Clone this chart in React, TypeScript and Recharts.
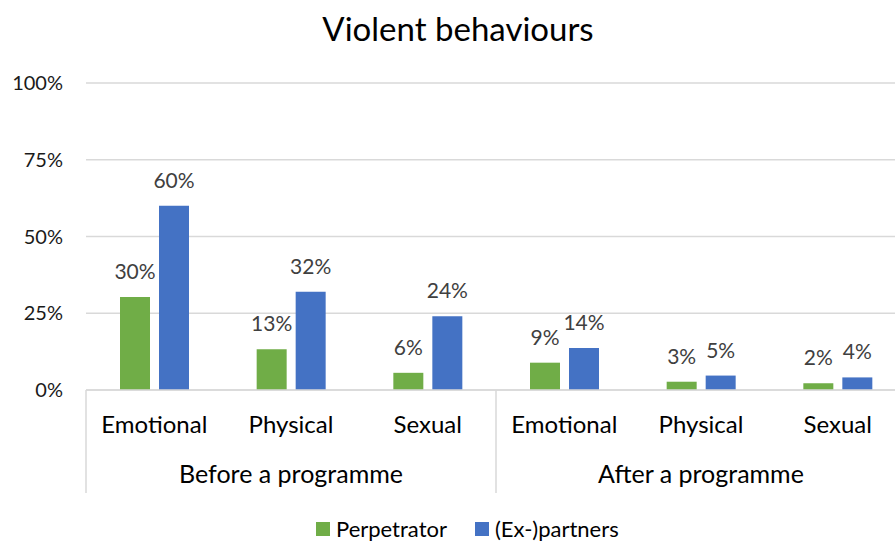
import { Bar, BarChart, CartesianGrid, LabelList, Legend, XAxis, YAxis } from "recharts"

const groups = [
  "Before a programme",
  "Before a programme",
  "Before a programme",
  "After a programme",
  "After a programme",
  "After a programme",
]
const behaviours = ["Emotional", "Physical", "Sexual", "Emotional", "Physical", "Sexual"]
const perpetrator = [30.3, 13.3, 5.6, 8.9, 2.7, 2.2]
const partners = [60, 32, 24, 13.7, 4.7, 4.1]
const yTicks = [0, 25, 50, 75, 100]
const seriesNames = ["Perpetrator", "(Ex-)partners"]

const data = behaviours.map((name, i) => ({
  name,
  group: groups[i],
  perpetrator: perpetrator[i],
  partners: partners[i],
}))

const FONT = "Lato, 'Open Sans', sans-serif"
const GREEN = "#70ad47"
const BLUE = "#4472c4"
const GRID = "#d9d9d9"
const AXIS1_H = 52
const AXIS2_H = 50
const seriesColors = [GREEN, BLUE]

function BehaviourTick(props: any) {
  const { x, y, index, payload } = props
  return (
    <text x={x} y={y + 43} textAnchor="middle" fontSize={24} fill="#000" fontFamily={FONT}>
      {behaviours[index] ?? payload.value}
    </text>
  )
}

function GroupTick(props: any) {
  const { x, y, payload, index, visibleTicksCount } = props
  const half = payload.offset ?? 0
  const top = y - AXIS1_H
  const bottom = y + 51
  return (
    <g>
      <line x1={x - half} x2={x - half} y1={top} y2={bottom} stroke={GRID} strokeWidth={1.5} />
      {index === visibleTicksCount - 1 && (
        <line x1={x + half} x2={x + half} y1={top} y2={bottom} stroke={GRID} strokeWidth={1.5} />
      )}
      <text x={x} y={y + 41} textAnchor="middle" fontSize={25} fill="#000" fontFamily={FONT}>
        {payload.value}
      </text>
    </g>
  )
}

// own legend so the series keep their order
function LegendContent() {
  return (
    <div style={{ display: "flex", alignItems: "center", fontFamily: FONT, fontSize: 22, color: "#000" }}>
      {seriesNames.map((label, i) => (
        <div key={label} style={{ display: "flex", alignItems: "center", marginRight: 28 }}>
          <span
            style={{ display: "inline-block", width: 14, height: 14, background: seriesColors[i], marginRight: 6 }}
          />
          <span>{label}</span>
        </div>
      ))}
    </div>
  )
}

export default function App() {
  return (
    <div
      style={{
        position: "absolute",
        left: 0,
        top: 0,
        width: 895,
        height: 542,
        overflow: "hidden",
        background: "#fff",
      }}
    >
      <div
        style={{
          position: "absolute",
          left: 0,
          top: 12,
          width: 916,
          textAlign: "center",
          fontFamily: FONT,
          fontSize: 33,
          lineHeight: "33px",
          color: "#000",
          zIndex: 2,
        }}
      >
        Violent behaviours
      </div>
      <BarChart
        width={910}
        height={542}
        data={data}
        margin={{ top: 83, right: 4, left: 26, bottom: 50 }}
        barSize={30}
        barGap={9}
      >
        <CartesianGrid vertical={false} stroke={GRID} strokeWidth={1.5} />
        <XAxis
          dataKey="name"
          height={AXIS1_H}
          tickLine={false}
          tickSize={0}
          tickMargin={0}
          axisLine={{ stroke: GRID, strokeWidth: 1.5 }}
          tick={<BehaviourTick />}
          interval={0}
        />
        <XAxis
          xAxisId="group"
          dataKey="group"
          allowDuplicatedCategory={false}
          height={AXIS2_H}
          tickLine={false}
          tickSize={0}
          tickMargin={0}
          axisLine={false}
          tick={<GroupTick />}
          interval={0}
        />
        <YAxis
          domain={[0, 100]}
          ticks={yTicks}
          tickFormatter={(v) => `${v}%`}
          width={60}
          axisLine={false}
          tickLine={false}
          tickSize={0}
          tickMargin={23}
          tick={{ fontSize: 20, fill: "#1a1a1a", fontFamily: FONT }}
        />
        <Legend
          layout="horizontal"
          align="center"
          verticalAlign="middle"
          content={<LegendContent />}
          wrapperStyle={{ left: 316, top: 515, width: 400 }}
        />
        <Bar dataKey="perpetrator" name="Perpetrator" fill={GREEN} isAnimationActive={false}>
          <LabelList
            dataKey="perpetrator"
            position="top"
            offset={18}
            formatter={(v: any) => `${Math.round(v)}%`}
            fill="#404040"
            fontSize={21}
            fontFamily={FONT}
          />
        </Bar>
        <Bar dataKey="partners" name="(Ex-)partners" fill={BLUE} isAnimationActive={false}>
          <LabelList
            dataKey="partners"
            position="top"
            offset={18}
            formatter={(v: any) => `${Math.round(v)}%`}
            fill="#404040"
            fontSize={21}
            fontFamily={FONT}
          />
        </Bar>
      </BarChart>
    </div>
  )
}
